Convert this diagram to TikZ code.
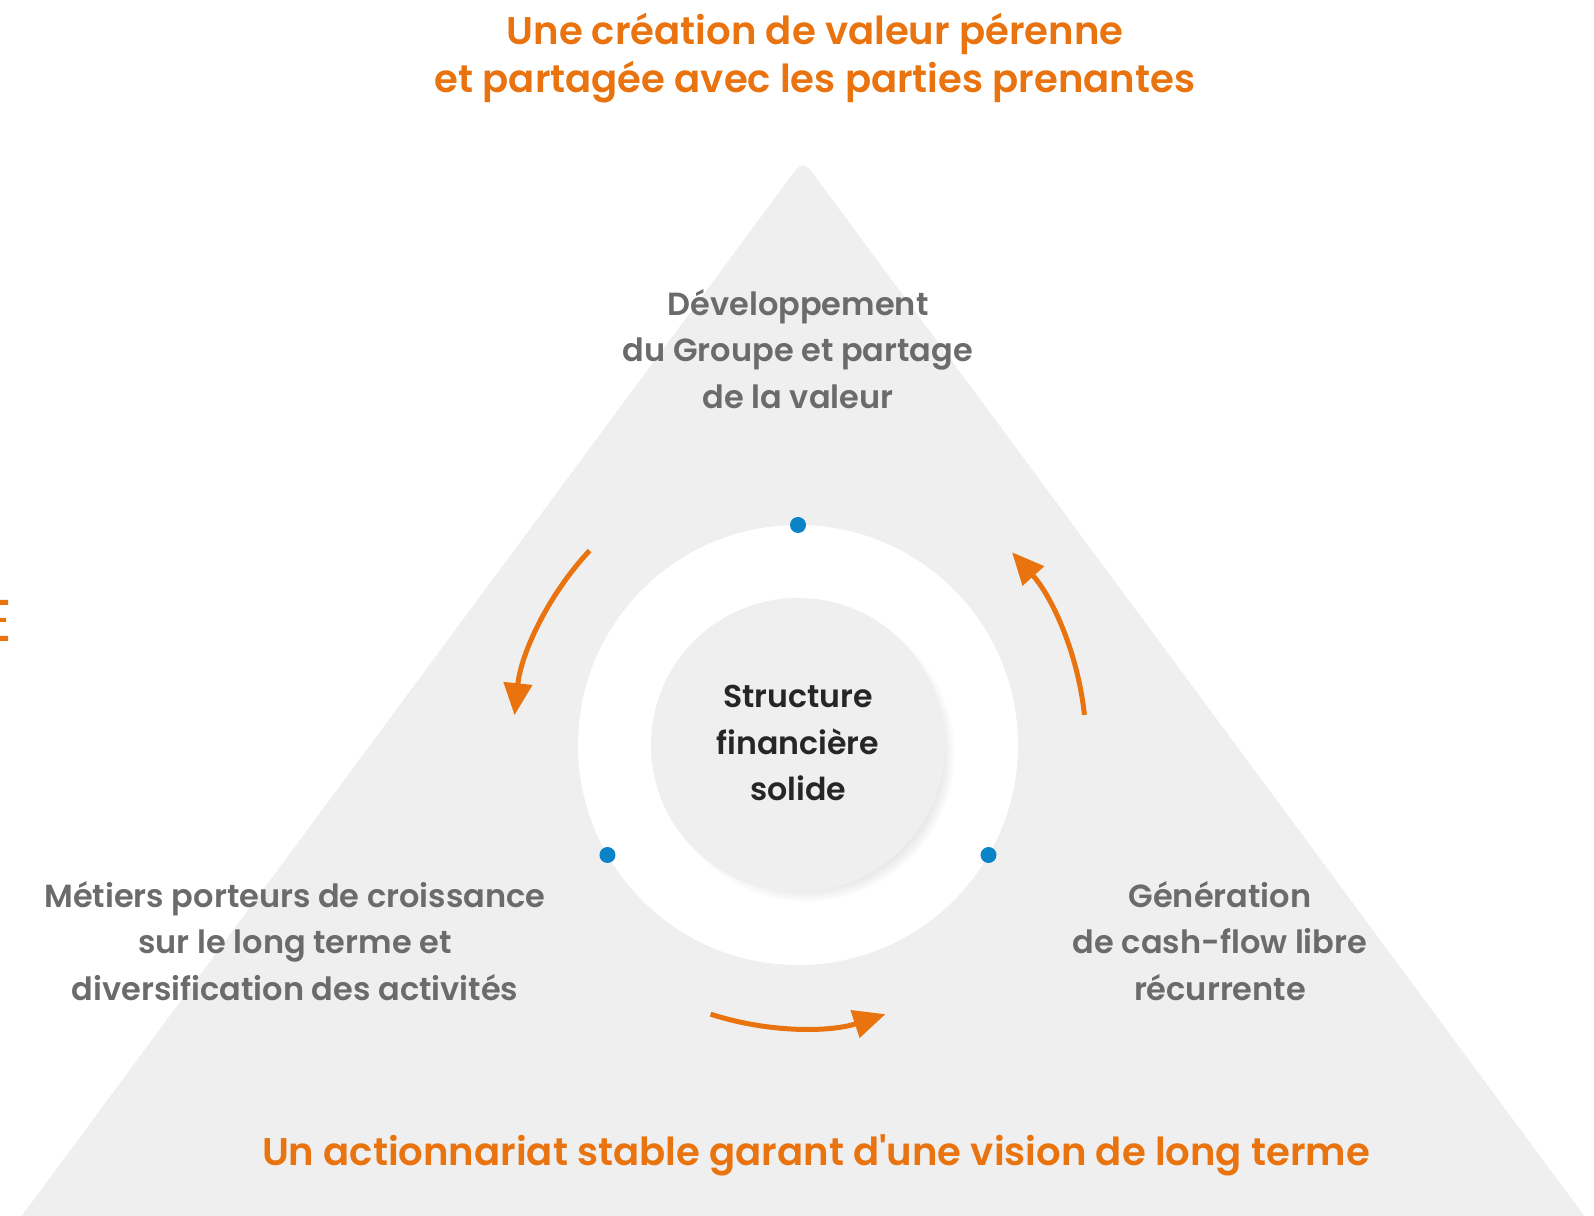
\documentclass[tikz,border=0pt]{standalone}
\usepackage{fontspec}
\IfFontExistsTF{Poppins SemiBold}{\setmainfont{Poppins}[Ligatures=TeXOff,BoldFont={Poppins SemiBold}]}{\setmainfont{Poppins}[Ligatures=TeXOff]}
\usetikzlibrary{arrows.meta,shadows}
\definecolor{orangeV}{HTML}{E8730F}
\definecolor{greyTxt}{HTML}{6B6B6B}
\definecolor{greyTri}{HTML}{EFEFEF}
\definecolor{blueDot}{HTML}{0A84C6}
\tikzset{
	bigtitle/.style={align=center, text=orangeV, font=\bfseries\fontsize{19.3}{24.4}\selectfont},
	sidelabel/.style={align=center, text=greyTxt, font=\bfseries\fontsize{16}{23.4}\selectfont},
	cyclearrow/.style={draw=orangeV, line width=2.5pt, -{Triangle[width=14pt,length=16pt]}},
}
\begin{document}
\begin{tikzpicture}[x=0.5pt,y=0.5pt]
	\useasboundingbox (0,0) rectangle (1594,1215);
	\fill[greyTri, rounded corners=6pt] (803,1055) -- (1591,-10) -- (15,-10) -- cycle;
	\coordinate (c) at (798,470);
	\fill[white] (c) circle (220);
	\node[circle, minimum size=147pt, fill=greyTri, inner sep=0pt,
		circular drop shadow={shadow xshift=4pt, shadow yshift=-4pt, shadow scale=1.01, opacity=0.3}] (core) at (c) {};
	\node[text=black!85, align=center, font=\bfseries\fontsize{15.8}{23.4}\selectfont] (coretxt) at (798,472) {Structure\\financière\\solide};
	\foreach \a/\n in {90/dtop, 210/dleft, 330/dright}
		\fill[blueDot] ([shift={(\a:220)}]c) circle (8) coordinate (\n);
	\draw[cyclearrow] ([shift={(137:285)}]c) arc (137:174:285);
	\draw[cyclearrow] ([shift={(252:283)}]c) arc (252:288:283);
	\draw[cyclearrow] ([shift={(6:288)}]c) arc (6:42:288);
	\node[bigtitle] (titre) at (815,1157) {Une création de valeur pérenne\\et partagée avec les parties prenantes};
	\node[sidelabel] (dev) at (798,866) {Développement\\du Groupe et partage\\de la valeur};
	\node[sidelabel] (metiers) at (295,274) {Métiers porteurs de croissance\\sur le long terme et\\diversification des activités};
	\node[sidelabel] (cash) at (1220,274) {Génération\\de cash-flow libre\\récurrente};
	\node[bigtitle] (action) at (816,60) {Un actionnariat stable garant d'une vision de long terme};
	\fill[orangeV] (0,610) rectangle (8,615) (0,593) rectangle (6,597) (0,574) rectangle (8,579);
\end{tikzpicture}
\end{document}
